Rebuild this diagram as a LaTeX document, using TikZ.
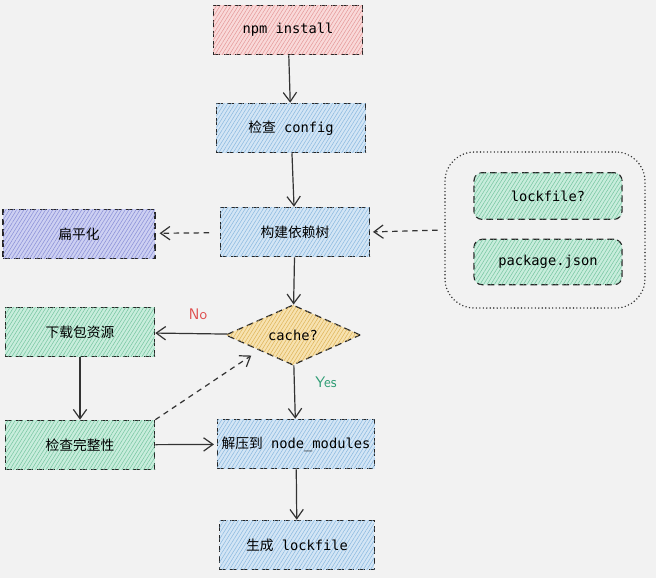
\documentclass[tikz,border=0pt]{standalone}
\usepackage{fontspec}
\setmonofont{DejaVu Sans Mono}
\newfontfamily\cjk{Noto Sans CJK SC}
\usetikzlibrary{positioning}
\usetikzlibrary{arrows.meta}
\usetikzlibrary{shapes.geometric}
\usetikzlibrary{patterns.meta}

\definecolor{redfill}{HTML}{F9D9D9}
\definecolor{redline}{HTML}{E59A9A}
\definecolor{bluefill}{HTML}{D3E5F5}
\definecolor{blueline}{HTML}{8CBAE0}
\definecolor{violetfill}{HTML}{CDD0F2}
\definecolor{violetline}{HTML}{8A90D8}
\definecolor{greenfill}{HTML}{C8EDDC}
\definecolor{greenline}{HTML}{78C6A2}
\definecolor{yellowfill}{HTML}{F7E2B0}
\definecolor{yellowline}{HTML}{DFB55A}
\definecolor{nocolor}{HTML}{DE4A4A}
\definecolor{yescolor}{HTML}{2E9C74}

\tikzset{
  box/.style={draw=black!85, line width=0.9pt, dash pattern=on 5pt off 3pt,
    minimum width=112pt, minimum height=37pt,
    font=\ttfamily\fontsize{10.3}{12}\selectfont},
  hatch/.style={fill=#1fill,
    postaction={pattern={Lines[angle=58,distance=2.3pt,line width=0.4pt]}, pattern color=#1line}},
  flow/.style={draw=black!80, line width=0.9pt, -{Straight Barb[length=7pt,width=10pt]}},
  link/.style={flow, dash pattern=on 4pt off 3.5pt},
  answer/.style={font=\sffamily\fontsize{11.5}{13}\selectfont}
}

\begin{document}
\begin{tikzpicture}[x=0.75pt, y=-0.75pt]
    \fill[black!5] (0,0) rectangle (656,578);

    \node[box, hatch=red] (npm) at (288,30) {npm install};
    \node[box, hatch=blue] (cfg) at (291,128) {{\cjk 检查} config};
    \node[box, hatch=blue] (tree) at (295,232) {\cjk 构建依赖树};
    \node[box, hatch=violet, minimum width=114pt] (flat) at (79,234) {\cjk 扁平化};
    \node[box, hatch=yellow, diamond, inner sep=0pt, minimum width=101pt, minimum height=45pt] (cache) at (293,335) {cache?};
    \node[box, hatch=green] (dl) at (80,332) {\cjk 下载包资源};
    \node[box, hatch=green] (chk) at (80,445) {\cjk 检查完整性};
    \node[box, hatch=blue, minimum width=118pt] (unz) at (296,444) {{\cjk 解压到} node\_modules};
    \node[box, hatch=blue, minimum width=116pt] (gen) at (297,545) {{\cjk 生成} lockfile};

    \node[draw=black!80, line width=1.2pt, line cap=round, dash pattern=on 0pt off 2.6pt,
          rounded corners=22pt, minimum width=150pt, minimum height=117pt] (grp) at (545,230) {};
    \node[box, hatch=green, rounded corners=6pt, minimum width=111pt, minimum height=35pt] (lock) at (548,196) {lockfile?};
    \node[box, hatch=green, rounded corners=6pt, minimum width=111pt, minimum height=34pt] (pkg) at (548,262) {package.json};

    \node[answer, text=nocolor] (no) at (198,314) {No};
    \node[answer, text=yescolor] (yes) at (326,382) {Yes};

    \draw[flow] (npm) -- (cfg);
    \draw[flow] (cfg) -- (tree);
    \draw[flow] (tree) -- (cache);
    \draw[link, shorten >=3pt, shorten <=8pt] (tree) -- (flat);
    \draw[link, shorten <=5pt, shorten >=2pt] (grp.west) -- (tree.east);
    \draw[flow] (cache) -- (dl);
    \draw[flow] (cache) -- (unz);
    \draw[flow] (dl) -- (chk);
    \draw[flow, shorten >=2pt] (chk) -- (unz);
    \draw[link, shorten >=7pt] (chk.north east) -- (cache.south west);
    \draw[flow] (unz) -- (gen);
\end{tikzpicture}
\end{document}
